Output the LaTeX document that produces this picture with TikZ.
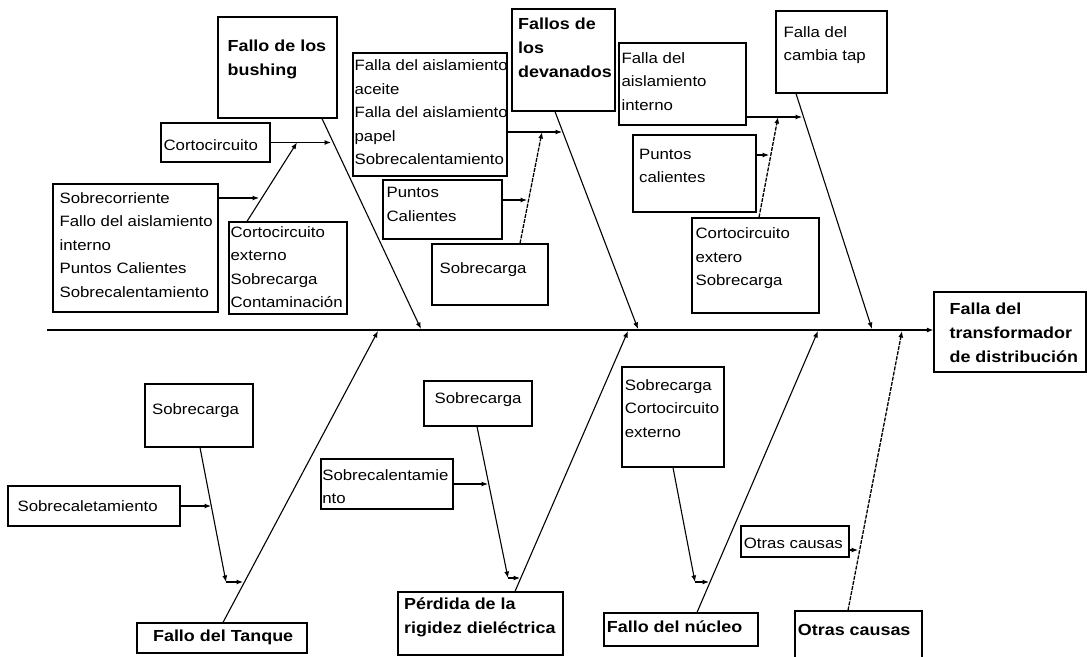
\documentclass[tikz,border=0pt]{standalone}
\usepackage{fontspec}
\setmainfont[FakeStretch=1.12]{Liberation Sans}
\usetikzlibrary{arrows.meta}
\newcommand\cb[9]{%
  \pgfmathsetmacro\cbw{#4-#2}\pgfmathsetmacro\cbh{#5-#3}%
  \node[cbox, minimum width=\cbw pt, minimum height=\cbh pt,
    label={[#6, anchor=north west, xshift=#7pt, yshift=-#8pt]north west:{#9}}]
    (#1) at ({(#2+#4)/2},{(#3+#5)/2}) {};}
\begin{document}
\begin{tikzpicture}[x=1pt,y=-1pt,
  cbox/.style={draw, line width=1.2pt, inner sep=0pt, rectangle},
  txt/.style={inner sep=0pt, align=left, font=\fontsize{15}{23.5}\selectfont},
  btxt/.style={inner sep=0pt, align=left, font=\bfseries\fontsize{16}{24}\selectfont},
  bbtxt/.style={inner sep=0pt, align=left, font=\bfseries\fontsize{16}{24}\selectfont},
  bone/.style={line width=1.1pt, -{Latex[length=6.5pt,width=5pt]}},
  dbone/.style={bone, line width=1.3pt, dash pattern=on 4pt off 1.2pt},
  spine/.style={line width=1.8pt, -{Latex[length=6.5pt,width=5pt]}}]
\useasboundingbox (0,0) rectangle (1087,656);
% top boxes
\cb{bush}{218}{17}{337}{118}{btxt}{10}{23.5}{Fallo de los\\bushing}
\cb{corto}{161}{123}{270}{162}{txt}{3}{17}{Cortocircuito}
\cb{sobrecorr}{53}{184}{218}{312}{txt}{7}{9}{Sobrecorriente\\Fallo del aislamiento\\interno\\Puntos Calientes\\Sobrecalentamiento}
\cb{cortoext}{229}{222}{347}{314}{txt}{2}{5}{Cortocircuito\\externo\\Sobrecarga\\Contaminación}
\cb{aceite}{353}{53}{507}{176}{txt}{2}{7.5}{Falla del aislamiento\\aceite\\Falla del aislamiento\\papel\\Sobrecalentamiento}
\cb{devan}{512}{9}{615}{111}{btxt}{6.5}{9}{Fallos de\\los\\devanados}
\cb{puntosC}{383}{180}{502}{239}{txt}{4}{8}{Puntos\\Calientes}
\cb{sobrecA}{432}{244}{548}{305}{txt}{8}{19}{Sobrecarga}
\cb{aisint}{619}{43}{746}{125}{txt}{3}{10}{Falla del\\aislamiento\\interno}
\cb{tap}{776}{11}{887}{93}{txt}{8}{15.7}{Falla del\\cambia tap}
\cb{puntosc}{633}{135}{756}{212}{txt}{6.5}{14.3}{Puntos\\calientes}
\cb{ccext}{692}{218}{819}{313}{txt}{4}{10.3}{Cortocircuito\\extero\\Sobrecarga}
\cb{final}{934}{292}{1086}{372}{bbtxt}{16}{11.5}{Falla del\\transformador\\de distribución}
% bottom boxes
\cb{sobT}{145}{384}{253}{447}{txt}{7.5}{20}{Sobrecarga}
\cb{sobcalT}{8}{486}{180}{526}{txt}{10}{15}{Sobrecaletamiento}
\cb{tanque}{137}{623}{307}{653}{btxt}{16.5}{7.5}{Fallo del Tanque}
\cb{sobP}{424}{381}{532}{426}{txt}{11}{12.3}{Sobrecarga}
\cb{sobcalP}{321}{459}{453}{509}{txt}{1.7}{11}{Sobrecalentamie\\nto}
\cb{perd}{398}{592}{563}{655}{btxt}{6.5}{6}{Pérdida de la\\rigidez dieléctrica}
\cb{nucS}{622}{367}{724}{467}{txt}{3.3}{13}{Sobrecarga\\Cortocircuito\\externo}
\cb{nuc}{604}{613}{758}{646}{btxt}{3.3}{8.5}{Fallo del núcleo}
\cb{otrasS}{741}{526}{849}{557}{txt}{3.3}{12}{Otras causas}
\cb{otras}{795}{611}{922}{662}{btxt}{3.3}{13.5}{Otras causas}
% coordinates
\coordinate (s0) at (47,330);
\coordinate (t1) at (421,329);
\coordinate (t2) at (638,329);
\coordinate (t3) at (872,329);
\coordinate (u1) at (378,331);
\coordinate (u2) at (628,331);
\coordinate (u3) at (818,331);
\coordinate (u4) at (902,331);
\coordinate (a1) at (331,142.5);
\coordinate (a2) at (297,142.5);
\coordinate (a3) at (259,198);
\coordinate (b1) at (562,132);
\coordinate (b2) at (542,132);
\coordinate (b3) at (527,200);
\coordinate (c1) at (802,117);
\coordinate (c2) at (778,117);
\coordinate (c3) at (769,155);
\coordinate (d1) at (226,582);
\coordinate (d2) at (243,582);
\coordinate (d3) at (211,506);
\coordinate (e1) at (508,578);
\coordinate (e2) at (520,578);
\coordinate (e3) at (488,484);
\coordinate (f1) at (695,582);
\coordinate (f2) at (709,582);
\coordinate (g1) at (858,550);
% spine
\draw[spine] (s0) -- (s0 -| final.west);
% top bones
\draw[bone] ([xshift=44.5pt]bush.south) -- (t1);
\draw[bone] (corto.east) -- (a1);
\draw[bone] ([xshift=-41pt]cortoext.north) -- (a2);
\draw[bone] ([yshift=50pt]sobrecorr.east) -- (a3);
\draw[bone] ([xshift=-8.5pt]devan.south) -- (t2);
\draw[bone] ([yshift=-17.5pt]aceite.east) -- (b1);
\draw[dbone] ([xshift=30pt]sobrecA.north) -- (b2);
\draw[bone] ([yshift=9.5pt]puntosC.east) -- (b3);
\draw[bone] ([xshift=-35.5pt]tap.south) -- (t3);
\draw[bone] ([yshift=-33pt]aisint.east) -- (c1);
\draw[dbone] ([xshift=3.5pt]ccext.north) -- (c2);
\draw[bone] ([yshift=18.5pt]puntosc.east) -- (c3);
% bottom bones
\draw[bone] ([xshift=1pt]tanque.north) -- (u1);
\draw[bone] ([xshift=1pt]sobT.south) -- (d1);
\draw[bone] (d1) -- (d2);
\draw[bone] (sobcalT.east) -- (d3);
\draw[bone] ([xshift=34.5pt]perd.north) -- (u2);
\draw[bone] ([xshift=-1pt]sobP.south) -- (e1);
\draw[bone] (e1) -- (e2);
\draw[bone] (sobcalP.east) -- (e3);
\draw[bone] ([xshift=16pt]nuc.north) -- (u3);
\draw[bone] (nucS.south) -- (f1);
\draw[bone] (f1) -- (f2);
\draw[dbone] ([xshift=-10.5pt]otras.north) -- (u4);
\draw[bone] ([yshift=-8.5pt]otrasS.east) -- (g1);
\end{tikzpicture}
\end{document}
